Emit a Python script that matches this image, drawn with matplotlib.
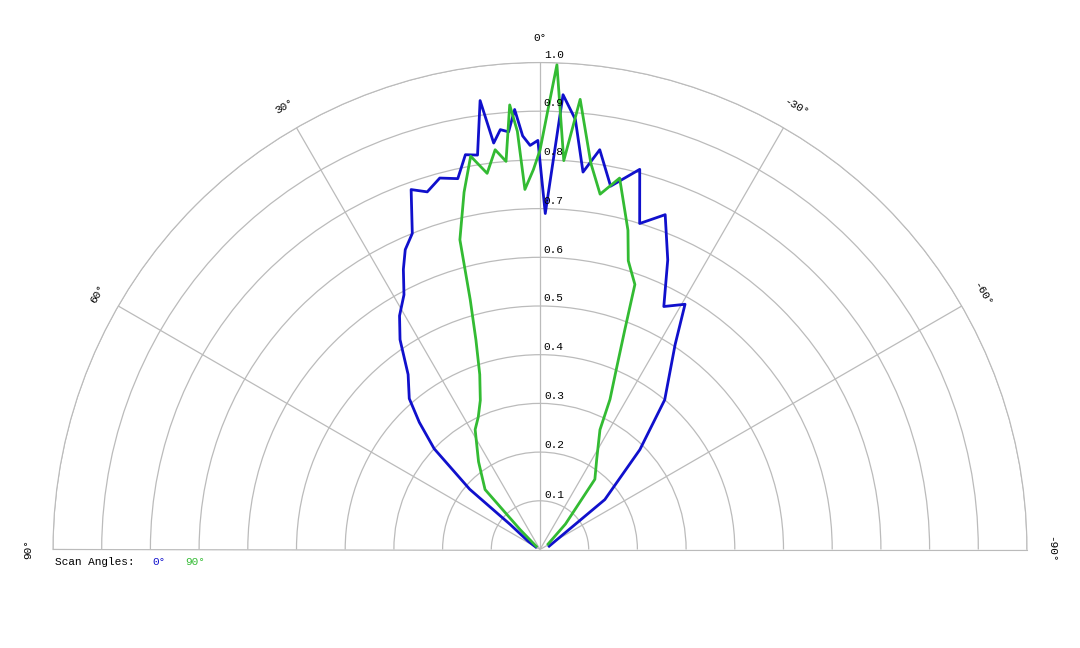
import numpy as np
import matplotlib
matplotlib.use("Agg")
import matplotlib.pyplot as plt

blue_ang = [-70, -52.4, -45, -39.8, -33.4, -30.6, -27, -23.8, -20.5, -17, -14.7, -11, -8.5, -6.5, -4.7, -2.9, -0.9, 0.3, 1.4, 2.4, 3.3, 4.3, 5.4, 6.5, 7.6, 9, 10.7, 12.5, 15.1, 17.5, 19.7, 22, 24.2, 26, 28.1, 31, 33.7, 37, 40.9, 43.5, 46.4, 49.4, 50, 55, 60]
blue_r   = [0.02, 0.168, 0.29, 0.40, 0.504, 0.585, 0.56, 0.65, 0.734, 0.70, 0.807, 0.76, 0.83, 0.78, 0.886, 0.935, 0.69, 0.84, 0.83, 0.85, 0.905, 0.86, 0.866, 0.84, 0.93, 0.82, 0.825, 0.78, 0.79, 0.77, 0.785, 0.70, 0.675, 0.64, 0.593, 0.56, 0.518, 0.45, 0.41, 0.36, 0.30, 0.19, 0.08, 0.03, 0.01]
green_ang = [-56, -45, -38, -32, -26.6, -25, -23, -21.1, -19.7, -17, -15.4, -12.1, -9.6, -7.5, -5.1, -3.5, -2, -1, 0, 1, 2.4, 3.1, 3.9, 5, 6.4, 8, 10, 12, 14.5, 15.6, 17, 19, 21.8, 25, 28.4, 35, 42.5, 45, 50]
green_r   = [0.02, 0.074, 0.183, 0.22, 0.275, 0.34, 0.40, 0.484, 0.578, 0.62, 0.68, 0.78, 0.74, 0.80, 0.928, 0.80, 0.996, 0.90, 0.82, 0.78, 0.74, 0.86, 0.915, 0.80, 0.826, 0.78, 0.82, 0.75, 0.657, 0.533, 0.45, 0.38, 0.33, 0.30, 0.28, 0.22, 0.167, 0.058, 0.01]

fig = plt.figure(figsize=(10.8, 6.48), dpi=100)
ax = fig.add_axes([(540 - 974) / 1080, (648 - 306 - 487) / 648, 1948 / 1080, 974 / 648], projection='polar')
ax.set_theta_zero_location('N')
ax.set_theta_direction(1)
ax.set_thetamin(-90)
ax.set_thetamax(90)
ax.set_ylim(0, 1)
ax.set_rticks(np.arange(0.1, 1.01, 0.1))
ax.set_thetagrids([-90, -60, -30, 0, 30, 60, 90])
ax.set_xticklabels([])
ax.set_yticklabels([])
ax.grid(color='#bbbbbb', linewidth=0.9)
for s in ['polar', 'start', 'end']:
    ax.spines[s].set_color('#bbbbbb')
ax.spines['inner'].set_visible(False)

ax.plot(np.radians(blue_ang), blue_r, color='#1010cc', lw=2)
ax.plot(np.radians(green_ang), green_r, color='#33bb33', lw=2)

mono = 'Liberation Mono'
for r in np.arange(0.1, 1.01, 0.1):
    ax.text(np.radians(-1.6 / r), r + 0.006, f"{r:.1f}", fontsize=8, family=mono,
            ha='center', va='bottom')
for a, lab in [(0, '0°'), (30, '30°'), (-30, '-30°'), (60, '60°'), (-60, '-60°'), (90, '90°'), (-90, '-90°')]:
    ax.text(np.radians(a), 1.05, lab, fontsize=8, family=mono, ha='center', va='center',
            rotation=a)

fig.text(55/1080, 1 - 562/648, "Scan Angles:", fontsize=8, family=mono, va='center')
fig.text(152/1080, 1 - 562/648, "0°", fontsize=8, family=mono, va='center', color='#1010cc')
fig.text(185/1080, 1 - 562/648, "90°", fontsize=8, family=mono, va='center', color='#33bb33')
fig.savefig('out.png', dpi=100)
